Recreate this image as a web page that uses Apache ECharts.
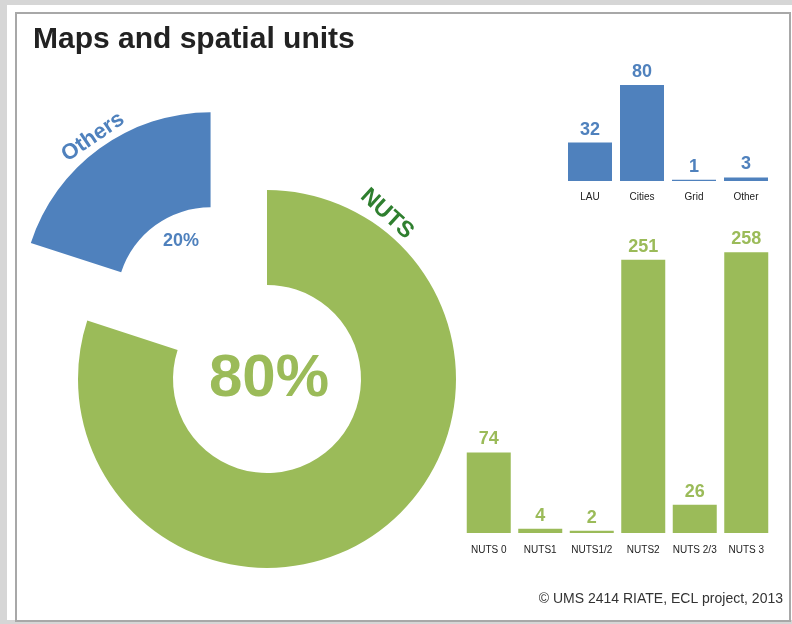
<!DOCTYPE html>
<html>
<head>
<meta charset="utf-8">
<style>
  html, body { margin: 0; padding: 0; background: #d6d6d6; }
  #chart { width: 792px; height: 624px; }
</style>
<script src="https://cdn.jsdelivr.net/npm/echarts@6/dist/echarts.min.js"></script>
</head>
<body>
<div id="chart"></div>
<script>
// Share of maps by spatial unit family (percent)
const shareNames = ['NUTS', 'Others'];
const shareValues = [80, 20];

// Non-NUTS spatial units (number of maps)
const otherUnits = ['LAU', 'Cities', 'Grid', 'Other'];
const otherCounts = [32, 80, 1, 3];

// NUTS levels (number of maps)
const nutsLevels = ['NUTS 0', 'NUTS1', 'NUTS1/2', 'NUTS2', 'NUTS 2/3', 'NUTS 3'];
const nutsCounts = [74, 4, 2, 251, 26, 258];

const BLUE = '#4f81bd';
const GREEN = '#9bbb59';
const DARK_GREEN = '#2f7f2f';
const FONT = 'Liberation Sans, Arial, Helvetica, sans-serif';

const chart = echarts.init(document.getElementById('chart'), null, { renderer: 'canvas' });

const valueLabel = (color) => ({
  show: true,
  position: 'top',
  distance: 4,
  color: color,
  fontFamily: FONT,
  fontWeight: 'bold',
  fontSize: 18
});

const catAxis = (data, gridIndex, margin) => ({
  type: 'category',
  gridIndex: gridIndex,
  data: data,
  axisLine: { show: false },
  axisTick: { show: false },
  axisLabel: { interval: 0, color: '#222', fontFamily: FONT, fontSize: 10, margin: margin }
});

const valAxis = (gridIndex, max) => ({
  type: 'value',
  gridIndex: gridIndex,
  min: 0,
  max: max,
  show: false,
  splitLine: { show: false }
});

chart.setOption({
  animation: false,
  backgroundColor: '#d6d6d6',
  graphic: [
    { type: 'rect', silent: true, z: -10, shape: { x: 7, y: 5, width: 785, height: 615 }, style: { fill: '#ffffff' } },
    { type: 'rect', silent: true, z: -9, shape: { x: 16, y: 13, width: 774, height: 608 }, style: { fill: '#ffffff', stroke: '#a8a8a8', lineWidth: 2 } },
    { type: 'text', x: 33, y: 40, style: { text: 'Maps and spatial units', fill: '#222', font: 'bold 30px ' + FONT, verticalAlign: 'middle' } },
    { type: 'text', x: 269, y: 379, style: { text: shareValues[0] + '%', fill: GREEN, font: 'bold 60px ' + FONT, align: 'center', verticalAlign: 'middle' } },
    { type: 'text', x: 181, y: 241, style: { text: shareValues[1] + '%', fill: BLUE, font: 'bold 18px ' + FONT, align: 'center', verticalAlign: 'middle' } },
    { type: 'text', x: 93, y: 137, rotation: 0.6, style: { text: shareNames[1], fill: BLUE, font: 'bold 22px ' + FONT, align: 'center', verticalAlign: 'middle' } },
    { type: 'text', x: 387, y: 214, rotation: -0.74, style: { text: shareNames[0], fill: DARK_GREEN, font: 'bold 23px ' + FONT, align: 'center', verticalAlign: 'middle' } },
    { type: 'text', x: 783, y: 599, style: { text: '\u00A9 UMS 2414 RIATE, ECL project, 2013', fill: '#333', font: '14px ' + FONT, align: 'right', verticalAlign: 'middle' } }
  ],
  grid: [
    { left: 564, top: 61, width: 208, height: 120 },
    { left: 463, top: 250, width: 309, height: 283 }
  ],
  xAxis: [catAxis(otherUnits, 0, 11), catAxis(nutsLevels, 1, 12)],
  yAxis: [valAxis(0, 100), valAxis(1, 260)],
  series: [
    {
      type: 'pie',
      center: [267, 379],
      radius: [94, 189],
      startAngle: 90,
      clockwise: true,
      selectedMode: 'single',
      selectedOffset: 96,
      label: { show: false },
      labelLine: { show: false },
      emphasis: { disabled: true },
      data: [
        { name: shareNames[0], value: shareValues[0], itemStyle: { color: GREEN } },
        { name: shareNames[1], value: shareValues[1], selected: true, itemStyle: { color: BLUE } }
      ]
    },
    {
      type: 'bar',
      xAxisIndex: 0,
      yAxisIndex: 0,
      barWidth: 44,
      data: otherCounts,
      itemStyle: { color: BLUE },
      label: valueLabel(BLUE),
      emphasis: { disabled: true }
    },
    {
      type: 'bar',
      xAxisIndex: 1,
      yAxisIndex: 1,
      barWidth: 44,
      data: nutsCounts,
      itemStyle: { color: GREEN },
      label: valueLabel(GREEN),
      emphasis: { disabled: true }
    }
  ]
});
</script>
</body>
</html>
